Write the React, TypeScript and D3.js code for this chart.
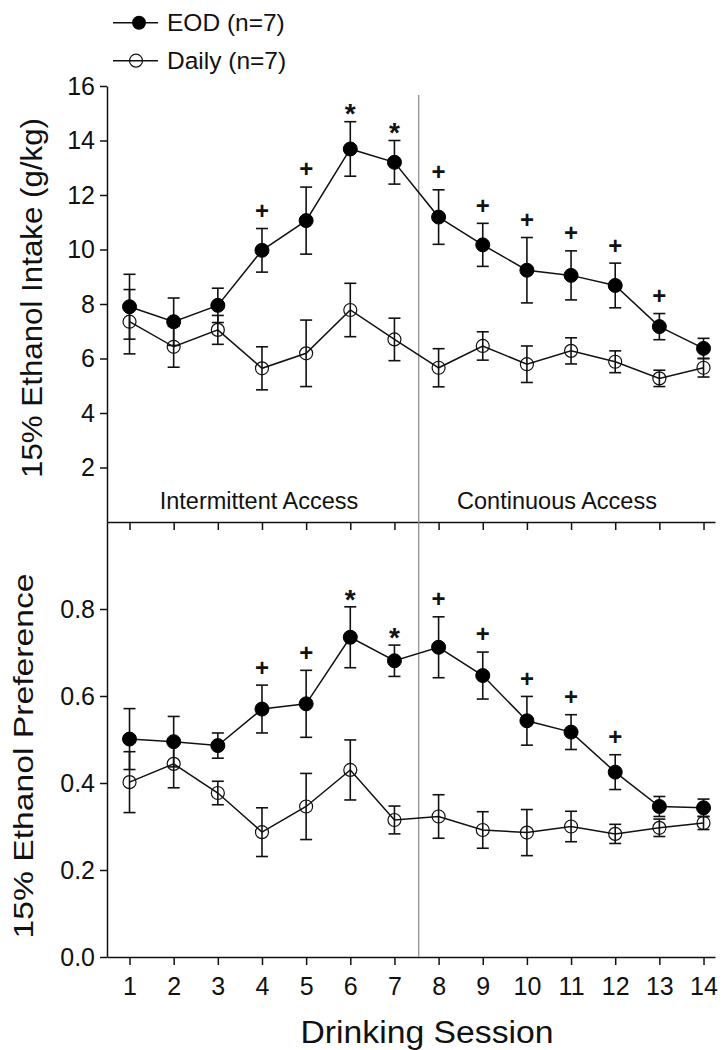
import React, { useEffect, useRef } from "react";
import * as d3 from "d3";

const sessions = [1, 2, 3, 4, 5, 6, 7, 8, 9, 10, 11, 12, 13, 14];

const eodIntake = [7.9, 7.35, 7.95, 9.97, 11.06, 13.69, 13.2, 11.19, 10.17, 9.24, 9.05, 8.68, 7.17, 6.37];
const eodIntakeSem = [1.19, 0.87, 0.63, 0.8, 1.23, 1.0, 0.8, 1.0, 0.79, 1.2, 0.9, 0.82, 0.48, 0.37];
const dailyIntake = [7.35, 6.43, 7.05, 5.64, 6.19, 7.78, 6.7, 5.66, 6.46, 5.79, 6.28, 5.88, 5.27, 5.66];
const dailyIntakeSem = [1.18, 0.75, 0.53, 0.79, 1.22, 0.98, 0.78, 0.7, 0.52, 0.67, 0.48, 0.4, 0.3, 0.34];

const eodPref = [0.501, 0.495, 0.486, 0.57, 0.582, 0.735, 0.681, 0.712, 0.647, 0.543, 0.517, 0.425, 0.346, 0.343];
const eodPrefSem = [0.07, 0.058, 0.029, 0.055, 0.077, 0.07, 0.036, 0.07, 0.054, 0.056, 0.04, 0.04, 0.023, 0.02];
const dailyPref = [0.402, 0.444, 0.377, 0.287, 0.346, 0.43, 0.315, 0.323, 0.292, 0.286, 0.3, 0.283, 0.297, 0.308];
const dailyPrefSem = [0.07, 0.055, 0.027, 0.056, 0.076, 0.069, 0.032, 0.05, 0.042, 0.053, 0.035, 0.022, 0.02, 0.015];

const sigIntake = ["", "", "", "+", "+", "*", "*", "+", "+", "+", "+", "+", "+", ""];
const sigPref = ["", "", "", "+", "+", "*", "*", "+", "+", "+", "+", "+", "", ""];

const intakeTicks = [2, 4, 6, 8, 10, 12, 14, 16];
const prefTicks = [0, 0.2, 0.4, 0.6, 0.8];

const legendLabels = ["EOD (n=7)", "Daily (n=7)"];
const phaseLabels = ["Intermittent Access", "Continuous Access"];
const xTitle = "Drinking Session";
const yTitleTop = "15% Ethanol Intake (g/kg)";
const yTitleBottom = "15% Ethanol Preference";

const FONT = "'Liberation Sans', Arial, Helvetica, sans-serif";

export default function App() {
  const ref = useRef<SVGSVGElement | null>(null);

  useEffect(() => {
    const svg = d3.select(ref.current);
    svg.selectAll("*").remove();

    const x = d3.scaleLinear().domain([0.49, 14.26]).range([107, 715]);
    const yTop = d3.scaleLinear().domain([0, 16]).range([522, 86]);
    const yBot = d3.scaleLinear().domain([0, 1]).range([957, 522]);

    const styleAxis = (g: any, fs: number) => {
      g.selectAll("path,line").attr("stroke", "#111").attr("stroke-width", 1.5);
      g.selectAll("text").attr("font-size", fs).attr("font-family", FONT).attr("fill", "#111");
    };

    // top panel y axis
    const gyTop = svg.append("g").attr("transform", `translate(${x.range()[0]},0)`)
      .call(d3.axisLeft(yTop).tickValues(intakeTicks).tickSize(7).tickSizeOuter(0).tickPadding(5).tickFormat(d3.format("d")) as any);
    styleAxis(gyTop, 25);

    // bottom panel y axis
    const gyBot = svg.append("g").attr("transform", `translate(${x.range()[0]},0)`)
      .call(d3.axisLeft(yBot).tickValues(prefTicks).tickSize(7).tickSizeOuter(0).tickPadding(5).tickFormat(d3.format(".1f")) as any);
    styleAxis(gyBot, 25);

    // shared middle line with inward ticks
    const gMid = svg.append("g").attr("transform", `translate(0,${yBot.range()[1]})`)
      .call(d3.axisTop(x).tickValues(sessions).tickSizeInner(-8).tickSizeOuter(0).tickFormat(() => "") as any);
    styleAxis(gMid, 25);

    // bottom x axis
    const gx = svg.append("g").attr("transform", `translate(0,${yBot.range()[0]})`)
      .call(d3.axisBottom(x).tickValues(sessions).tickSize(8).tickSizeOuter(0).tickPadding(12).tickFormat(d3.format("d")) as any);
    styleAxis(gx, 25);

    // divider
    svg.append("line")
      .attr("x1", x(7.55)).attr("x2", x(7.55))
      .attr("y1", 95).attr("y2", yBot(0))
      .attr("stroke", "#888").attr("stroke-width", 1.2);

    // phase labels
    svg.append("text").text(phaseLabels[0])
      .attr("x", 259).attr("y", 509).attr("text-anchor", "middle")
      .attr("font-size", 23.5).attr("font-family", FONT).attr("fill", "#111");
    svg.append("text").text(phaseLabels[1])
      .attr("x", 557).attr("y", 509).attr("text-anchor", "middle")
      .attr("font-size", 23.5).attr("font-family", FONT).attr("fill", "#111");

    const drawPanel = (
      y: d3.ScaleLinear<number, number>,
      eod: number[], eodSem: number[], daily: number[], dailySem: number[], sig: string[]
    ) => {
      const g = svg.append("g");
      const cap = 6;
      const drawErr = (vals: number[], sems: number[]) => {
        vals.forEach((v, i) => {
          const cx = x(sessions[i]);
          const t = y(v + sems[i]);
          const b = y(v - sems[i]);
          g.append("line").attr("x1", cx).attr("x2", cx).attr("y1", t).attr("y2", b)
            .attr("stroke", "#111").attr("stroke-width", 1.6);
          [t, b].forEach((yy) => {
            g.append("line").attr("x1", cx - cap).attr("x2", cx + cap).attr("y1", yy).attr("y2", yy)
              .attr("stroke", "#111").attr("stroke-width", 1.6);
          });
        });
      };
      drawErr(eod, eodSem);
      drawErr(daily, dailySem);

      const line = d3.line<number>().x((_, i) => x(sessions[i])).y((d) => y(d));
      g.append("path").attr("d", line(daily) as string).attr("fill", "none").attr("stroke", "#111").attr("stroke-width", 1.5);
      g.append("path").attr("d", line(eod) as string).attr("fill", "none").attr("stroke", "#111").attr("stroke-width", 1.5);

      daily.forEach((v, i) => {
        g.append("circle").attr("cx", x(sessions[i])).attr("cy", y(v)).attr("r", 6.5)
          .attr("fill", "none").attr("stroke", "#111").attr("stroke-width", 1.2);
      });
      eod.forEach((v, i) => {
        g.append("circle").attr("cx", x(sessions[i])).attr("cy", y(v)).attr("r", 7)
          .attr("fill", "#000").attr("stroke", "#000").attr("stroke-width", 1);
      });

      sig.forEach((s, i) => {
        if (!s) return;
        const top = y(eod[i] + eodSem[i]);
        const isStar = s === "*";
        const fs = isStar ? 28 : 24;
        const center = top - (isStar ? 14 : 18);
        const baseline = center + (isStar ? 0.56 : 0.35) * fs;
        g.append("text").text(s)
          .attr("x", x(sessions[i])).attr("y", baseline).attr("text-anchor", "middle")
          .attr("font-size", fs).attr("font-weight", "bold").attr("font-family", FONT).attr("fill", "#111");
      });
    };

    drawPanel(yTop, eodIntake, eodIntakeSem, dailyIntake, dailyIntakeSem, sigIntake);
    drawPanel(yBot, eodPref, eodPrefSem, dailyPref, dailyPrefSem, sigPref);

    // legend
    const legY = [22.7, 60.7];
    legendLabels.forEach((lab, i) => {
      const gl = svg.append("g");
      gl.append("line").attr("x1", 113).attr("x2", 158).attr("y1", legY[i]).attr("y2", legY[i])
        .attr("stroke", "#111").attr("stroke-width", 1.5);
      if (i === 0) {
        gl.append("circle").attr("cx", 139).attr("cy", legY[i]).attr("r", 7).attr("fill", "#000");
      } else {
        gl.append("circle").attr("cx", 136).attr("cy", legY[i]).attr("r", 6.5)
          .attr("fill", "none").attr("stroke", "#111").attr("stroke-width", 1.2);
      }
      gl.append("text").text(lab).attr("x", 167).attr("y", legY[i] + 8.3)
        .attr("font-size", 24.5).attr("font-family", FONT).attr("fill", "#111");
    });

    // axis titles
    svg.append("text").text(xTitle)
      .attr("x", 427).attr("y", 1043).attr("text-anchor", "middle")
      .attr("font-size", 31).attr("font-family", FONT).attr("fill", "#111")
      .attr("textLength", 253).attr("lengthAdjust", "spacingAndGlyphs");

    svg.append("text").text(yTitleTop)
      .attr("transform", `translate(42,298) rotate(-90)`).attr("text-anchor", "middle")
      .attr("font-size", 30).attr("font-family", FONT).attr("fill", "#111")
      .attr("textLength", 360).attr("lengthAdjust", "spacingAndGlyphs");

    svg.append("text").text(yTitleBottom)
      .attr("transform", `translate(33,756) rotate(-90)`).attr("text-anchor", "middle")
      .attr("font-size", 28).attr("font-family", FONT).attr("fill", "#111")
      .attr("textLength", 365).attr("lengthAdjust", "spacingAndGlyphs");
  }, []);

  return (
    <svg
      ref={ref}
      width={725}
      height={1050}
      style={{ position: "absolute", left: 0, top: 0, background: "#fff", display: "block" }}
    />
  );
}
